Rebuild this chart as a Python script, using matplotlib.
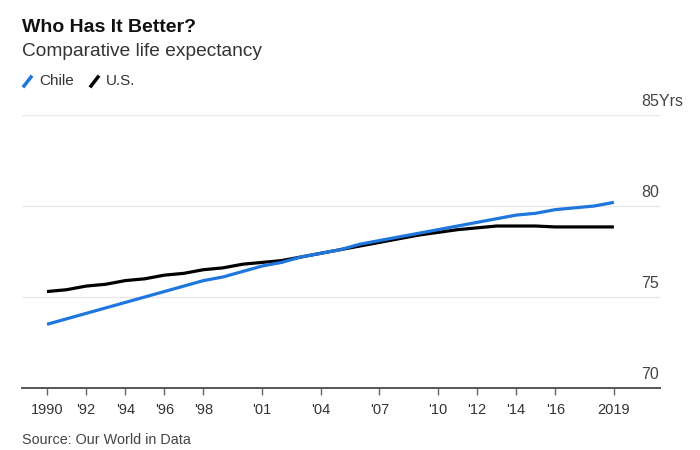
"""Chile vs U.S. life expectancy, Bloomberg-style line chart."""

import matplotlib
matplotlib.use("Agg")
import matplotlib.pyplot as plt
import matplotlib.transforms as mtransforms
from matplotlib.lines import Line2D

plt.rcParams['font.family'] = ['Liberation Sans', 'DejaVu Sans']

# Data
years = list(range(1990, 2020))
chile = [73.5, 73.8, 74.1, 74.4, 74.7, 75.0, 75.3, 75.6, 75.9, 76.1,
         76.4, 76.7, 76.9, 77.2, 77.4, 77.6, 77.9, 78.1, 78.3, 78.5,
         78.7, 78.9, 79.1, 79.3, 79.5, 79.6, 79.8, 79.9, 80.0, 80.2]
us = [75.3, 75.4, 75.6, 75.7, 75.9, 76.0, 76.2, 76.3, 76.5, 76.6,
      76.8, 76.9, 77.0, 77.2, 77.4, 77.6, 77.8, 78.0, 78.2, 78.4,
      78.55, 78.7, 78.8, 78.9, 78.9, 78.9, 78.85, 78.85, 78.85, 78.85]

tick_years = [1990, 1992, 1994, 1996, 1998, 2001, 2004, 2007, 2010, 2012, 2014, 2016, 2019]
tick_labels = ["1990", "'92", "'94", "'96", "'98", "'01", "'04", "'07", "'10", "'12", "'14", "'16", "2019"]
y_levels = [70, 75, 80, 85]
y_labels = ["70", "75", "80", "85Yrs"]

BLUE = "#1f77dd"

fig = plt.figure(figsize=(7, 4.5), dpi=100)
ax = fig.add_axes([22 / 700, 1 - 388 / 450, 638 / 700, 273 / 450])

ax.plot(years, chile, color=BLUE, linewidth=2.3, solid_joinstyle="round",
        solid_capstyle="butt", zorder=3)
ax.plot(years, us, color="black", linewidth=2.3, solid_joinstyle="round",
        solid_capstyle="butt", zorder=2)

ax.set_xlim(1988.72, 2021.36)
ax.set_ylim(70, 85)

# gridlines
for lvl in y_levels[1:]:
    ax.axhline(lvl, color="#e8e8e8", linewidth=1, zorder=1)

# y labels sit above gridlines, right of the plot
blend = mtransforms.blended_transform_factory(fig.transFigure, ax.transData)
for lvl, lab in zip(y_levels, y_labels):
    ax.annotate(lab, xy=(641 / 700, lvl), xycoords=blend, xytext=(0, 6.5),
                textcoords="offset points", ha="left", va="baseline",
                fontsize=11.5, color="#444444", annotation_clip=False)

for side in ["top", "right", "left"]:
    ax.spines[side].set_visible(False)
ax.spines["bottom"].set_color("#555555")
ax.spines["bottom"].set_linewidth(1.4)

ax.set_yticks([])
ax.set_xticks(tick_years)
ax.set_xticklabels(tick_labels)
ax.tick_params(axis="x", length=5, width=1, color="#666666", labelsize=10.5,
               labelcolor="#333333", pad=6)

# titles
fig.text(22 / 700, 1 - 28 / 450, "Who Has It Better?", fontsize=14, fontweight="bold",
         color="#111111", va="center")
fig.text(22 / 700, 1 - 51 / 450, "Comparative life expectancy", fontsize=13.8,
         color="#333333", va="center")

# legend with slanted strokes
fig.add_artist(Line2D([24 / 700, 31 / 700], [1 - 86 / 450, 1 - 77 / 450],
                      color=BLUE, linewidth=2.5, transform=fig.transFigure))
fig.text(39 / 700, 1 - 81 / 450, "Chile", fontsize=11, color="#333333", va="center")
fig.add_artist(Line2D([91 / 700, 98 / 700], [1 - 86 / 450, 1 - 77 / 450],
                      color="black", linewidth=2.5, transform=fig.transFigure))
fig.text(106 / 700, 1 - 81 / 450, "U.S.", fontsize=11, color="#333333", va="center")

fig.text(22 / 700, 1 - 440 / 450, "Source: Our World in Data", fontsize=10.4,
         color="#444444", va="center")

plt.savefig("out.png", dpi=100)
plt.close()
